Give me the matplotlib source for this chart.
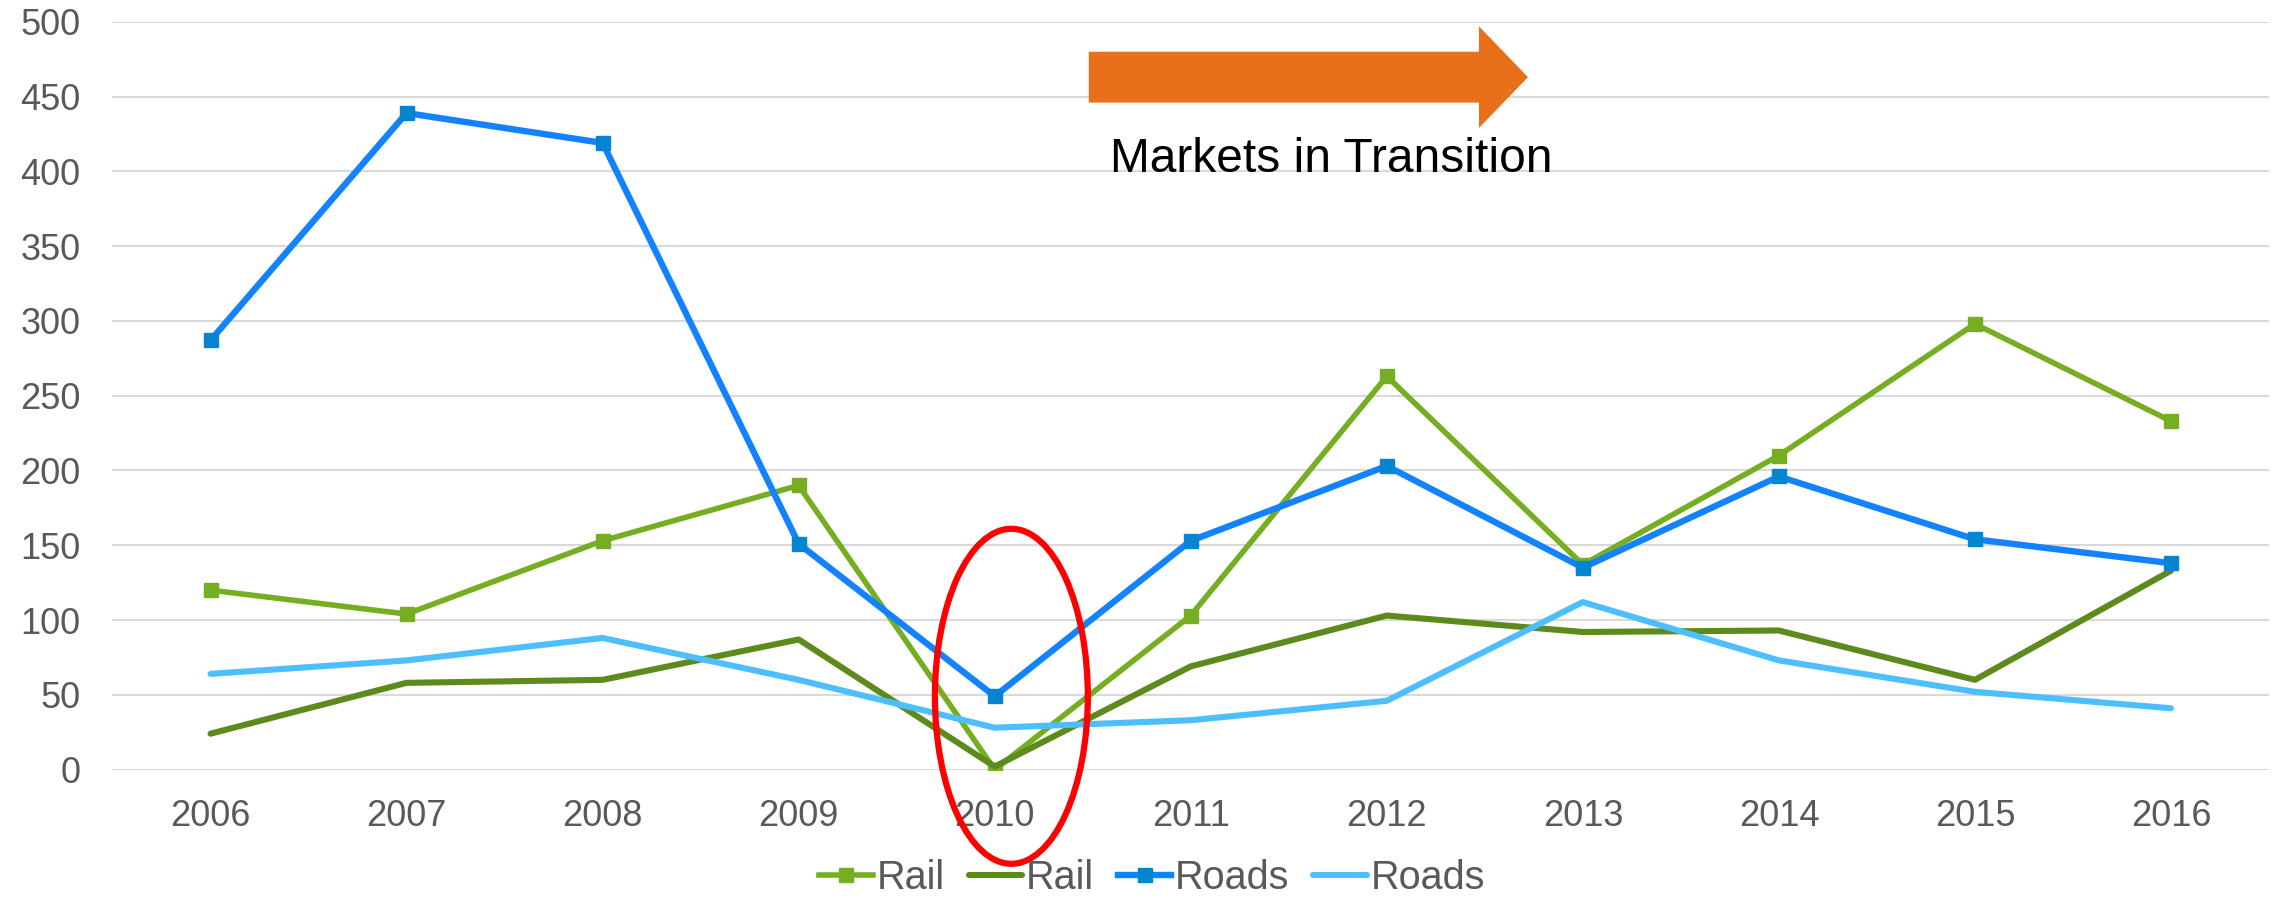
import numpy as np
import matplotlib
matplotlib.use("Agg")
import matplotlib.pyplot as plt
from matplotlib.patches import Ellipse, FancyArrow

plt.rcParams['font.family'] = ['Liberation Sans', 'DejaVu Sans']

years = ['2006', '2007', '2008', '2009', '2010', '2011', '2012', '2013', '2014', '2015', '2016']
rail_a = [120, 104, 153, 190, 0, 103, 263, 137, 210, 298, 233]
rail_b = [24, 58, 60, 87, 2, 69, 103, 92, 93, 60, 133]
roads_a = [287, 439, 419, 151, 49, 153, 203, 135, 196, 154, 138]
roads_b = [64, 73, 88, 60, 28, 33, 46, 112, 73, 52, 41]
yticks = [0, 50, 100, 150, 200, 250, 300, 350, 400, 450, 500]

fig = plt.figure(figsize=(22.77, 8.98), dpi=100)
ax = fig.add_axes([0.0494, 0.143, 0.9471, 0.8327])

x = np.arange(len(years))
ax.plot(x, rail_a, color='#76AE22', lw=4.0, marker='s', ms=10, mfc='#76AE22', mec='#76AE22', label='Rail')
ax.plot(x, rail_b, color='#5C8A1C', lw=4.4, solid_capstyle='round', label='Rail')
ax.plot(x, roads_a, color='#1282FF', lw=4.6, marker='s', ms=10, mfc='#0585D0', mec='#0585D0', label='Roads')
ax.plot(x, roads_b, color='#4DBFFF', lw=4.4, solid_capstyle='round', label='Roads')

ax.set_xlim(-0.5, len(years) - 0.5)
ax.set_ylim(0, 500)
ax.set_xticks(x)
ax.set_xticklabels(years)
ax.set_yticks(yticks)
ax.tick_params(axis='both', length=0, labelsize=26, labelcolor='#595959')
ax.tick_params(axis='x', pad=21)
ax.tick_params(axis='y', pad=23)
ax.grid(axis='y', color='#D9D9D9', lw=1.5)
ax.set_axisbelow(True)
for s in ax.spines.values():
    s.set_visible(False)

# highlight for 2010
ax.add_patch(Ellipse((4.085, 49), 0.78, 224, fill=False, ec='#FF0000', lw=4.5, zorder=5, clip_on=False))

# arrow + label
ax.add_patch(FancyArrow(4.48, 463, 2.24, 0, width=34, head_width=68, head_length=0.25,
                        length_includes_head=True, color='#E8701A', lw=0, zorder=4))
ax.text(4.59, 408, 'Markets in Transition', fontsize=34.5, color='black', va='center', ha='left')

fig.legend(loc='center', bbox_to_anchor=(0.506, 0.022), ncol=4, frameon=False,
           fontsize=28.5, handlelength=1.35, handletextpad=0.1, columnspacing=0.6,
           labelcolor='#595959', borderpad=0)

fig.savefig('out.png', dpi=100)
